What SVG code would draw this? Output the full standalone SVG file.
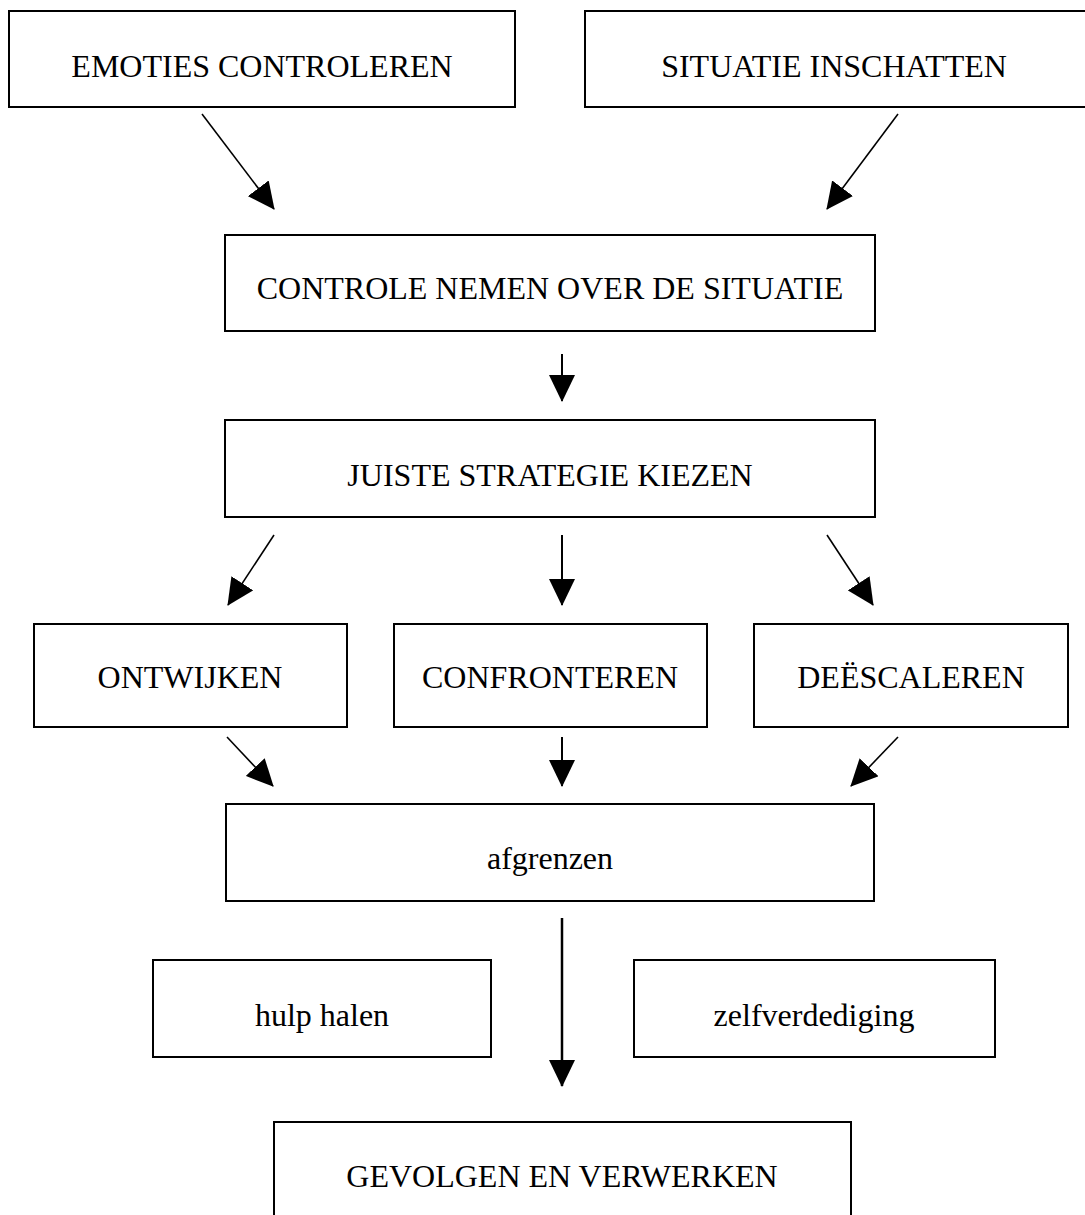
<svg xmlns="http://www.w3.org/2000/svg" width="1085" height="1215" viewBox="0 0 1085 1215">
<style>
.box{fill:#ffffff;stroke:#000000;stroke-width:2}
.lbl{font-family:"Liberation Serif","Times New Roman",serif;font-size:32px;fill:#000000;text-anchor:middle}
.edge{stroke:#000000;stroke-width:1.6;fill:none;marker-end:url(#ah)}
.edgev{stroke:#000000;stroke-width:2;fill:none;marker-end:url(#ah)}
</style>
<defs>
<marker id="ah" markerUnits="userSpaceOnUse" markerWidth="27" markerHeight="26" viewBox="0 0 27 26" refX="26" refY="13" orient="auto">
<path d="M0,0 L27,13 L0,26 Z" fill="#000000"/>
</marker>
</defs>
<rect width="1085" height="1215" fill="#ffffff"/>
<g id="connectors">
<line class="edge" x1="202" y1="114" x2="274" y2="209"/>
<line class="edge" x1="898" y1="114" x2="827" y2="209"/>
<line class="edgev" x1="562" y1="354" x2="562" y2="401"/>
<line class="edge" x1="274" y1="535" x2="228" y2="605"/>
<line class="edgev" x1="562" y1="535" x2="562" y2="605"/>
<line class="edge" x1="827" y1="535" x2="873" y2="605"/>
<line class="edge" x1="227" y1="737" x2="273" y2="786"/>
<line class="edgev" x1="562" y1="737" x2="562" y2="786"/>
<line class="edge" x1="898" y1="737" x2="851" y2="786"/>
<line class="edgev" x1="562" y1="918" x2="562" y2="1086" style="stroke-width:2.5"/>
</g>
<g id="n-emoties"><rect class="box" x="9" y="11" width="506" height="96"/><text class="lbl" x="262" y="77">EMOTIES CONTROLEREN</text></g>
<g id="n-situatie"><rect class="box" x="585" y="11" width="503" height="96"/><text class="lbl" x="834" y="77">SITUATIE INSCHATTEN</text></g>
<g id="n-controle"><rect class="box" x="225" y="235" width="650" height="96"/><text class="lbl" x="550" y="299">CONTROLE NEMEN OVER DE SITUATIE</text></g>
<g id="n-juiste"><rect class="box" x="225" y="420" width="650" height="97"/><text class="lbl" x="550" y="486">JUISTE STRATEGIE KIEZEN</text></g>
<g id="n-ontwijken"><rect class="box" x="34" y="624" width="313" height="103"/><text class="lbl" x="190" y="688">ONTWIJKEN</text></g>
<g id="n-confronteren"><rect class="box" x="394" y="624" width="313" height="103"/><text class="lbl" x="550" y="688">CONFRONTEREN</text></g>
<g id="n-deescaleren"><rect class="box" x="754" y="624" width="314" height="103"/><text class="lbl" x="911" y="688">DEËSCALEREN</text></g>
<g id="n-afgrenzen"><rect class="box" x="226" y="804" width="648" height="97"/><text class="lbl" x="550" y="869">afgrenzen</text></g>
<g id="n-hulp"><rect class="box" x="153" y="960" width="338" height="97"/><text class="lbl" x="322" y="1026">hulp halen</text></g>
<g id="n-zelf"><rect class="box" x="634" y="960" width="361" height="97"/><text class="lbl" x="814" y="1026">zelfverdediging</text></g>
<g id="n-gevolgen"><rect class="box" x="274" y="1122" width="577" height="110"/><text class="lbl" x="562" y="1187">GEVOLGEN EN VERWERKEN</text></g>
</svg>
